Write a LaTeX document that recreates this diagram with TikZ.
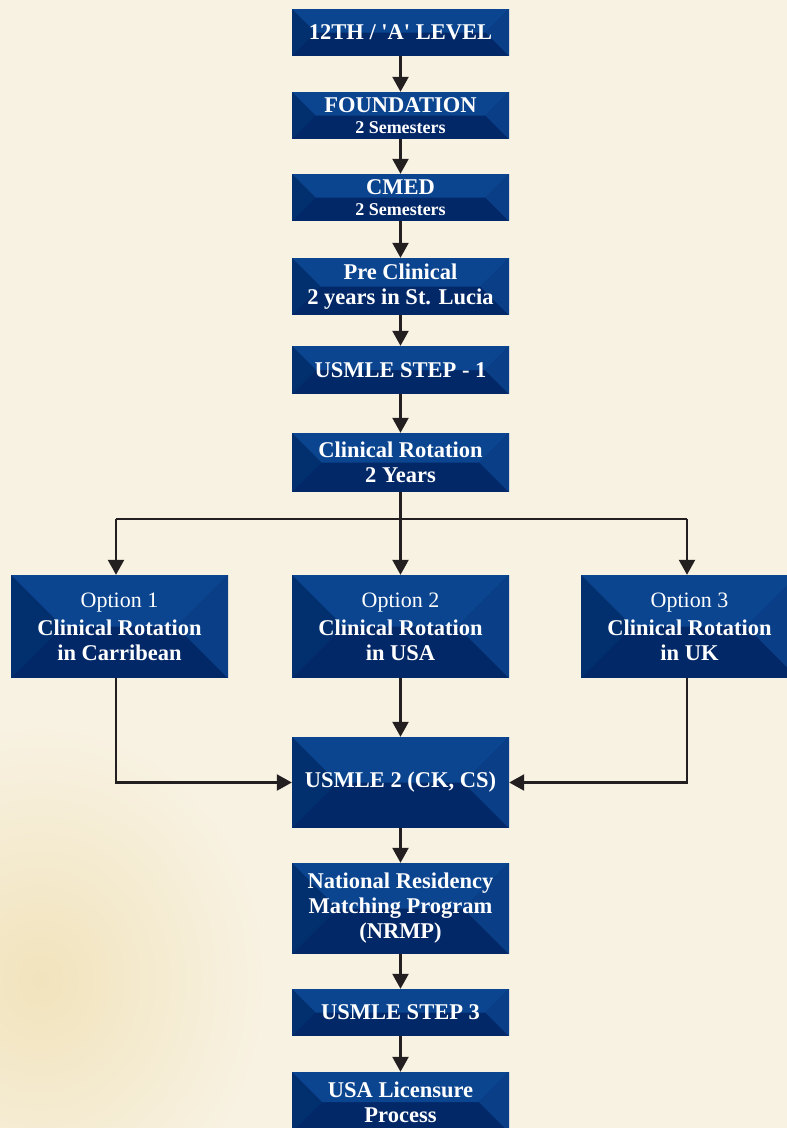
\documentclass[tikz,border=0pt]{standalone}
\usepackage{fontspec}
\setmainfont{Liberation Serif}[Ligatures=TeXOff]
\usetikzlibrary{arrows.meta,calc}
\definecolor{bg}{HTML}{F8F2E3}
\definecolor{warm}{HTML}{F1E3BC}
\definecolor{btop}{HTML}{0B4590}
\definecolor{bleft}{HTML}{02306F}
\definecolor{bright}{HTML}{0A3F88}
\definecolor{bbot}{HTML}{032868}
\definecolor{arr}{HTML}{231F20}
\newcommand\subtxt{\bfseries\fontsize{18}{19}\selectfont}
\newcommand\opttxt{\mdseries\fontsize{22}{25}\selectfont}
\tikzset{
  box/.style={minimum width=217pt, inner sep=0pt, text=white, align=center,
    font=\bfseries\fontsize{22.5}{25}\selectfont, fill=bbot,
    path picture={
      \path let \p1=(path picture bounding box.north west),
                \p2=(path picture bounding box.south east),
                \p3=($(\p1)!0.5!(\p2)$) in
        [fill=btop] (\x1,\y1) -- (\x2,\y1) -- (\x2-\y1+\y3,\y3) -- (\x1+\y1-\y3,\y3) -- cycle;
      \path let \p1=(path picture bounding box.north west),
                \p2=(path picture bounding box.south east),
                \p3=($(\p1)!0.5!(\p2)$) in
        [fill=bleft] (\x1,\y1) -- (\x1+\y1-\y3,\y3) -- (\x1,\y2) -- cycle;
      \path let \p1=(path picture bounding box.north west),
                \p2=(path picture bounding box.south east),
                \p3=($(\p1)!0.5!(\p2)$) in
        [fill=bright] (\x2,\y1) -- (\x2-\y1+\y3,\y3) -- (\x2,\y2) -- cycle;
    }},
  conn/.style={draw=arr, line width=2.3pt, -{Triangle[width=16pt,length=15pt]}},
  plain/.style={draw=arr, line width=2.3pt},
}
\begin{document}
\begin{tikzpicture}[x=1pt,y=-1pt]
\useasboundingbox (0,0) rectangle (787,1128);
\fill[bg] (0,0) rectangle (787,1128);
\shade[inner color=warm, outer color=bg] (40,980) ellipse (230 and 260);

\node[box, minimum height=47pt] (n1) at (400.5,32.5) {12TH / 'A' LEVEL};
\node[box, minimum height=47pt] (n2) at (400.5,115.5) {FOUNDATION\\[-4pt]{\subtxt 2 Semesters}};
\node[box, minimum height=47pt] (n3) at (400.5,197.5) {CMED\\[-4pt]{\subtxt 2 Semesters}};
\node[box, minimum height=57pt] (n4) at (400.5,286.5) {Pre Clinical\\2 years in St. Lucia};
\node[box, minimum height=48pt] (n5) at (400.5,370) {USMLE STEP - 1};
\node[box, minimum height=59pt] (n6) at (400.5,462.5) {Clinical Rotation\\2 Years};

\node[box, minimum height=103pt] (o1) at (119.5,626.5) {{\opttxt Option 1}\\[3pt]Clinical Rotation\\in Carribean};
\node[box, minimum height=103pt] (o2) at (400.5,626.5) {{\opttxt Option 2}\\[3pt]Clinical Rotation\\in USA};
\node[box, minimum height=103pt] (o3) at (689.5,626.5) {{\opttxt Option 3}\\[3pt]Clinical Rotation\\in UK};

\node[box, minimum height=91pt] (u2) at (400.5,782.5) {USMLE 2 (CK, CS)};
\node[box, minimum height=91pt] (nr) at (400.5,908.5) {National Residency\\Matching Program\\(NRMP)};
\node[box, minimum height=47pt] (s3) at (400.5,1012.5) {USMLE STEP 3};
\node[box, minimum height=60pt] (li) at (400.5,1102) {USA Licensure\\Process};

\draw[conn] (n1) -- (n2);
\draw[conn] (n2) -- (n3);
\draw[conn] (n3) -- (n4);
\draw[conn] (n4) -- (n5);
\draw[conn] (n5) -- (n6);

\coordinate (br) at (400.5,519);
\coordinate (b1) at (116,519);
\coordinate (b3) at (687,519);
\draw[plain] (n6) -- (br);
\draw[plain] (b1) -- (b3);
\draw[conn] (b1) -- (b1 |- o1.north);
\draw[conn] (br) -- (o2);
\draw[conn] (b3) -- (b3 |- o3.north);

\draw[conn] (b1 |- o1.south) |- (u2.west);
\draw[conn] (o2) -- (u2);
\draw[conn] (b3 |- o3.south) |- (u2.east);

\draw[conn] (u2) -- (nr);
\draw[conn] (nr) -- (s3);
\draw[conn] (s3) -- (li);
\end{tikzpicture}
\end{document}
